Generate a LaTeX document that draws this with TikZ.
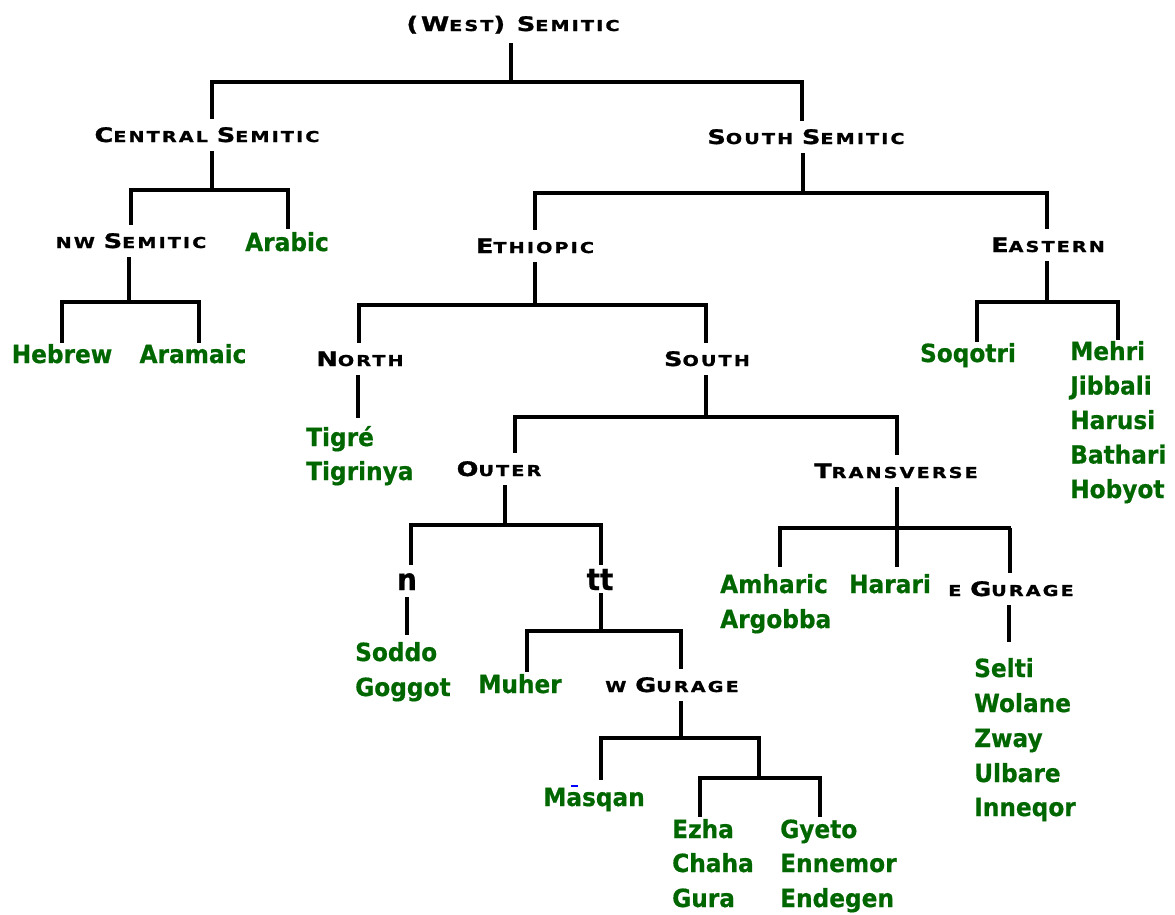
\documentclass[tikz,border=0pt]{standalone}
\usepackage{fontspec}
\setmainfont{DejaVu Sans}
\newfontfamily\capfont{DejaVu Sans}[FakeStretch=1.28,LetterSpace=14,FakeBold=1.2]
\newfontfamily\langfont{DejaVu Sans}[FakeStretch=0.93,FakeBold=0.6]
\newcommand\Lc{\fontsize{20pt}{24pt}\selectfont}
\newcommand\Sc{\fontsize{15pt}{18pt}\selectfont}
\definecolor{langgreen}{RGB}{0,102,0}
\tikzset{
  edge/.style={line width=3.3pt,line join=miter,draw=black},
  grp/.style={font=\capfont\bfseries, inner xsep=0pt, inner ysep=9pt, text height=14pt, text depth=0pt, anchor=base},
  lang/.style={font=\langfont\bfseries\fontsize{25pt}{29pt}\selectfont, text=langgreen, inner xsep=0pt, inner ysep=2pt, text height=18pt, text depth=0pt},
  langc/.style={lang,anchor=base},
  langl/.style={lang,anchor=base west},
  glyph/.style={font=\langfont\bfseries\fontsize{30pt}{34pt}\selectfont, inner xsep=0pt, text depth=0pt, anchor=base},
}
\begin{document}
\begin{tikzpicture}[x=1pt,y=-1pt]
\useasboundingbox[fill=white] (0,0) rectangle (1175,914);

% ---- group labels ----
\node[grp,inner ysep=12pt] (ws) at (513,31) {\Lc(W\Sc EST\Lc) S\Sc EMITIC};
\node[grp] (cs) at (207,142) {\Lc C\Sc ENTRAL \Lc S\Sc EMITIC};
\node[grp] (ss) at (806,144) {\Lc S\Sc OUTH \Lc S\Sc EMITIC};
\node[grp] (nw) at (131,248) {\Sc NW \Lc S\Sc EMITIC};
\node[grp] (eth) at (535,253) {\Lc E\Sc THIOPIC};
\node[grp] (east) at (1048,252) {\Lc E\Sc ASTERN};
\node[grp] (north) at (360,366) {\Lc N\Sc ORTH};
\node[grp] (south) at (707,366) {\Lc S\Sc OUTH};
\node[grp] (outer) at (499,476) {\Lc O\Sc UTER};
\node[grp] (trans) at (896,478) {\Lc T\Sc RANSVERSE};
\node[grp] (wgur) at (672,692) {\Sc W \Lc G\Sc URAGE};
\node[grp] (egur) at (1011,596) {\Sc E \Lc G\Sc URAGE};
\node[glyph,text height=18pt,inner ysep=7pt] (n) at (407,590) {n};
\node[glyph,text height=22pt,inner ysep=3pt] (tt) at (600,590) {tt};

% ---- languages ----
\node[langc,inner ysep=4pt] (arabic) at (287,251) {Arabic};
\node[langc] (hebrew) at (62,363) {Hebrew};
\node[langc] (aramaic) at (193,363) {Aramaic};
\node[langc] (soqotri) at (968,362) {Soqotri};
\node[langl] (mehri) at (1070,360) {Mehri};
\node[langl] (jibbali) at (1070,394.5) {Jibbali};
\node[langl] (harusi) at (1070,429) {Harusi};
\node[langl] (bathari) at (1070,463.5) {Bathari};
\node[langl] (hobyot) at (1070,498) {Hobyot};
\node[langl,inner ysep=10pt] (tigre) at (306,446) {Tigré};
\node[langl] (tigrinya) at (306,480) {Tigrinya};
\node[langl,inner ysep=8pt] (soddo) at (355,661) {Soddo};
\node[langl] (goggot) at (355,696) {Goggot};
\node[langc,inner ysep=3pt] (muher) at (520,693) {Muher};
\node[langc,inner ysep=8pt] (masqan) at (594,806) {M\rlap{\hspace{5pt}\textcolor{blue}{\rule[19pt]{7pt}{2.2pt}}}asqan};
\node[langl,inner ysep=3pt] (ezha) at (672,838) {Ezha};
\node[langl] (chaha) at (672,872) {Chaha};
\node[langl] (gura) at (672,907) {Gura};
\node[langl,inner ysep=3pt] (gyeto) at (780,838) {Gyeto};
\node[langl] (ennemor) at (780,872) {Ennemor};
\node[langl] (endegen) at (780,907) {Endegen};
\node[langl,inner ysep=8pt] (amharic) at (720,593) {Amharic};
\node[langl] (argobba) at (720,628) {Argobba};
\node[langc,inner ysep=8pt] (harari) at (890,593) {Harari};
\node[langl,inner ysep=17pt] (selti) at (974,677) {Selti};
\node[langl] (wolane) at (974,712) {Wolane};
\node[langl] (zway) at (974,747) {Zway};
\node[langl] (ulbare) at (974,782) {Ulbare};
\node[langl] (inneqor) at (974,816) {Inneqor};

% ---- junction coordinates ----
\coordinate (a0) at (511,82);  \coordinate (a1) at (212,82);  \coordinate (a2) at (802,82);
\coordinate (b0) at (212,190); \coordinate (b1) at (131,190); \coordinate (b2) at (288,190);
\coordinate (c0) at (803,193); \coordinate (c1) at (535,193); \coordinate (c2) at (1047,193);
\coordinate (d0) at (129,302); \coordinate (d1) at (62,302);  \coordinate (d2) at (199,302);
\coordinate (e0) at (535,305); \coordinate (e1) at (359,305); \coordinate (e2) at (706,305);
\coordinate (f0) at (1047,302);\coordinate (f1) at (977,302); \coordinate (f2) at (1118,302);
\coordinate (g0) at (358,400);
\coordinate (h0) at (706,417); \coordinate (h1) at (515,417); \coordinate (h2) at (897,417);
\coordinate (i0) at (505,525); \coordinate (i1) at (411,525); \coordinate (i2) at (601,525);
\coordinate (j0) at (897,528); \coordinate (j1) at (780,528); \coordinate (j2) at (1011,528);
\coordinate (j3) at (1010,528);
\coordinate (k0) at (407,620);
\coordinate (l0) at (601,631); \coordinate (l1) at (527,631); \coordinate (l2) at (681,631);
\coordinate (m0) at (681,738); \coordinate (m1) at (601,738); \coordinate (m2) at (759,738);
\coordinate (p0) at (759,778); \coordinate (p1) at (700,778); \coordinate (p2) at (820,778);
\coordinate (q0) at (1009,620);

% ---- connectors ----
\draw[edge] (a0 |- ws.south) -- (a0);
\draw[edge] (a1 |- cs.north) -- (a1) -- (a2) -- (a2 |- ss.north);
\draw[edge] (b0 |- cs.south) -- (b0);
\draw[edge] (b1 |- nw.north) -- (b1) -- (b2) -- (b2 |- arabic.north);
\draw[edge] (c0 |- ss.south) -- (c0);
\draw[edge] (c1 |- eth.north) -- (c1) -- (c2) -- (c2 |- east.north);
\draw[edge] (d0 |- nw.south) -- (d0);
\draw[edge] (d1 |- hebrew.north) -- (d1) -- (d2) -- (d2 |- aramaic.north);
\draw[edge] (e0 |- eth.south) -- (e0);
\draw[edge] (e1 |- north.north) -- (e1) -- (e2) -- (e2 |- south.north);
\draw[edge] (f0 |- east.south) -- (f0);
\draw[edge] (f1 |- soqotri.north) -- (f1) -- (f2) -- (f2 |- mehri.north);
\draw[edge] (g0 |- north.south) -- (g0 |- tigre.north);
\draw[edge] (h0 |- south.south) -- (h0);
\draw[edge] (h1 |- outer.north) -- (h1) -- (h2) -- (h2 |- trans.north);
\draw[edge] (i0 |- outer.south) -- (i0);
\draw[edge] (i1 |- n.north) -- (i1) -- (i2) -- (i2 |- tt.north);
\draw[edge] (j0 |- trans.south) -- (j0 |- harari.north);
\draw[edge] (j1 |- amharic.north) -- (j1) -- (j2);
\draw[edge] (j3) -- (j3 |- egur.north);
\draw[edge] (k0 |- n.south) -- (k0 |- soddo.north);
\draw[edge] (l0 |- tt.south) -- (l0);
\draw[edge] (l1 |- muher.north) -- (l1) -- (l2) -- (l2 |- wgur.north);
\draw[edge] (m0 |- wgur.south) -- (m0);
\draw[edge] (m1 |- masqan.north) -- (m1) -- (m2) -- (p0);
\draw[edge] (p1 |- ezha.north) -- (p1) -- (p2) -- (p2 |- gyeto.north);
\draw[edge] (q0 |- egur.south) -- (q0 |- selti.north);
\end{tikzpicture}
\end{document}
